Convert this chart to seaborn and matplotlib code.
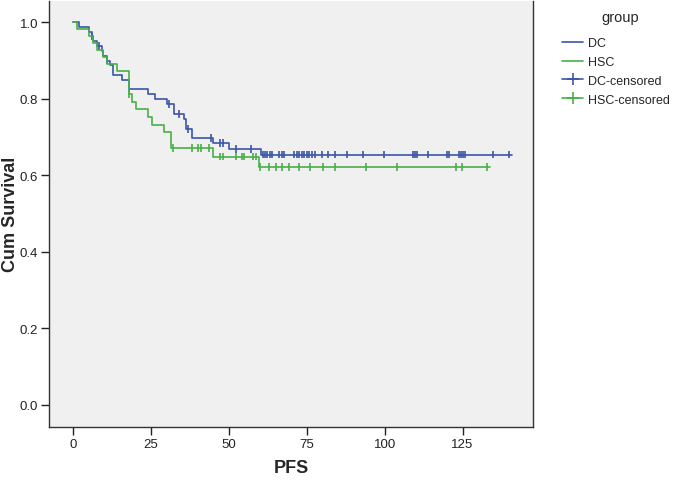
import numpy as np
import pandas as pd
import matplotlib
matplotlib.use('Agg')
import matplotlib.pyplot as plt
import seaborn as sns
from matplotlib.lines import Line2D

# Kaplan-Meier steps (time, survival after the step)
dc_time = [0, 1.9, 5.1, 5.9, 6.4, 7.5, 9.1, 9.6, 10.7, 11.8, 12.9, 15.5, 18.0, 24.1,
           26.3, 30.0, 32.5, 35.4, 36.2, 38.0, 44.8, 50.1, 60.2]
dc_surv = [1.0, 0.988, 0.975, 0.963, 0.95, 0.938, 0.925, 0.913, 0.90, 0.888, 0.863,
           0.85, 0.825, 0.813, 0.80, 0.786, 0.76, 0.747, 0.721, 0.697, 0.685, 0.669, 0.654]
dc_end = 140.9
dc_cens = [5.9, 8.4, 10.8, 30.9, 34.1, 37.0, 44.1, 47.1, 48.0, 52.1, 57.0, 60.9, 61.6,
           62.3, 63.2, 63.9, 66.2, 67.0, 67.7, 71.0, 71.8, 72.6, 73.4, 74.2, 75.0, 75.8,
           76.6, 77.6, 80.0, 81.9, 83.9, 88.0, 93.0, 99.9, 109.1, 109.7, 110.3, 113.9,
           120.0, 120.7, 123.7, 124.4, 125.0, 125.7, 134.8, 140.0]

hsc_time = [0, 1.1, 5.1, 6.4, 7.5, 9.6, 10.7, 14.0, 18.0, 19.0, 20.0, 24.1, 25.2, 29.0,
            31.3, 45.0, 59.8]
hsc_surv = [1.0, 0.982, 0.964, 0.945, 0.927, 0.909, 0.891, 0.873, 0.813, 0.791, 0.773,
            0.752, 0.732, 0.714, 0.672, 0.649, 0.621]
hsc_end = 133.9
hsc_cens = [18.0, 32.0, 38.0, 40.2, 41.0, 43.5, 47.1, 48.0, 52.1, 54.1, 54.9, 57.8, 58.7,
            60.0, 63.0, 65.1, 67.1, 69.4, 72.6, 76.1, 80.1, 83.9, 94.1, 103.9, 122.9,
            124.9, 132.8]

groups = ['DC', 'HSC']
colors = {'DC': '#3d55a8', 'HSC': '#47b047'}
x_ticks = [0, 25, 50, 75, 100, 125]
y_ticks = [0.0, 0.2, 0.4, 0.6, 0.8, 1.0]


def curve_df(name, t, s, end):
    return pd.DataFrame({'time': list(t) + [end], 'surv': list(s) + [s[-1]], 'group': name})


def cens_df(name, t, s, c):
    idx = np.searchsorted(t, c, side='right') - 1
    return pd.DataFrame({'time': c, 'surv': np.array(s)[idx], 'group': name})


curves = pd.concat([curve_df('DC', dc_time, dc_surv, dc_end),
                    curve_df('HSC', hsc_time, hsc_surv, hsc_end)])
cens = pd.concat([cens_df('DC', dc_time, dc_surv, dc_cens),
                  cens_df('HSC', hsc_time, hsc_surv, hsc_cens)])

sns.set_style('white')
plt.rcParams['font.family'] = ['Liberation Sans', 'DejaVu Sans']

fig = plt.figure(figsize=(6.75, 4.81), dpi=100)
ax = fig.add_axes([0.073, 0.111, 0.717, 0.885])
ax.set_facecolor('#f0f0f0')

sns.lineplot(data=curves, x='time', y='surv', hue='group', palette=colors,
             drawstyle='steps-post', estimator=None, sort=False, linewidth=1.2,
             legend=False, ax=ax)
sns.scatterplot(data=cens, x='time', y='surv', hue='group', palette=colors,
                marker='|', s=30, linewidth=1.2, legend=False, ax=ax)

ax.set_xlim(-7.7, 147.7)
ax.set_ylim(-0.057, 1.056)
ax.set_xticks(x_ticks)
ax.set_xticklabels([str(v) for v in x_ticks])
ax.set_yticks(y_ticks)
ax.set_yticklabels(['%.1f' % v for v in y_ticks])
ax.tick_params(direction='out', length=6, width=1, color='#222222', labelsize=9.5,
               labelcolor='#222222', bottom=True, left=True, pad=2)
for sp in ax.spines.values():
    sp.set_color('#333333')
    sp.set_linewidth(1)
ax.spines['top'].set_visible(False)

ax.set_xlabel('PFS', fontsize=13, fontweight='bold')
ax.set_ylabel('Cum Survival', fontsize=13, fontweight='bold')
ax.xaxis.set_label_coords(0.5, -0.095)
ax.xaxis.label.set_va('center')
ax.yaxis.set_label_coords(-0.08, 0.5)
ax.yaxis.label.set_va('center')

handles = [Line2D([], [], color=colors['DC'], lw=1.2),
           Line2D([], [], color=colors['HSC'], lw=1.2),
           Line2D([], [], color=colors['DC'], lw=1.2, marker='+', markersize=9, mew=1.2),
           Line2D([], [], color=colors['HSC'], lw=1.2, marker='+', markersize=9, mew=1.2)]
labels = ['DC', 'HSC', 'DC-censored', 'HSC-censored']
fig.text(620 / 675, 1 - 18 / 481, 'group', fontsize=10.5, ha='center', va='center')
fig.legend(handles, labels, loc='upper left', bbox_to_anchor=(0.832, 1 - 38 / 481),
           frameon=False, fontsize=9, handlelength=1.75, handletextpad=0.4,
           labelspacing=0.55, borderpad=0, borderaxespad=0)

fig.savefig('out.png', dpi=100)
